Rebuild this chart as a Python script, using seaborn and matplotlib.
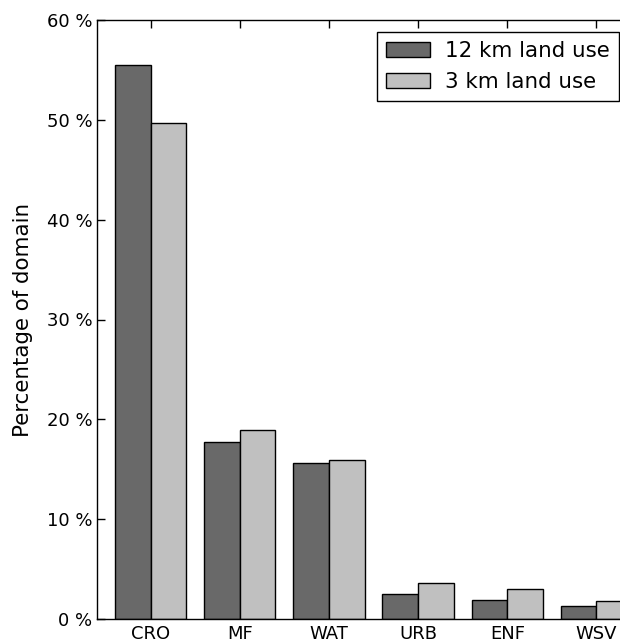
import matplotlib
matplotlib.use("Agg")
import matplotlib.pyplot as plt
import seaborn as sns
import pandas as pd
from matplotlib.ticker import FuncFormatter, MultipleLocator

categories = ["CRO", "MF", "WAT", "URB", "ENF", "WSV"]
series_names = ["12 km land use", "3 km land use"]
values_12km = [55.5, 17.7, 15.6, 2.5, 1.9, 1.3]
values_3km = [49.7, 18.9, 15.9, 3.6, 3.0, 1.8]
colors = ["#696969", "#c0c0c0"]

df = pd.DataFrame({
    "category": categories * 2,
    "value": values_12km + values_3km,
    "series": [series_names[0]] * len(categories) + [series_names[1]] * len(categories),
})

sns.set_style("ticks")
plt.rcParams["font.family"] = ["DejaVu Sans"]
plt.rcParams["text.color"] = "black"
plt.rcParams["axes.labelcolor"] = "black"

fig = plt.figure(figsize=(6.2, 6.4), dpi=100)
ax = fig.add_axes([97 / 620, 1 - 619 / 640, 553 / 620, 599 / 640])

sns.barplot(data=df, x="category", y="value", hue="series", order=categories,
            hue_order=series_names, palette=colors, edgecolor="black",
            linewidth=1.0, saturation=1, ax=ax, width=0.8, gap=0)

ax.set_xlim(-0.6, 5.6)
ax.set_ylim(0, 60)
ax.yaxis.set_major_locator(MultipleLocator(10))
ax.yaxis.set_major_formatter(FuncFormatter(lambda v, p: f"{int(v)} %"))
ax.set_xlabel("")
ax.set_ylabel("Percentage of domain", fontsize=15.4, labelpad=10, color="black")
ax.tick_params(axis="both", direction="in", length=6, width=1, labelsize=13,
               top=True, right=True, colors="black")
ax.tick_params(axis="x", pad=4)
for s in ax.spines.values():
    s.set_visible(True)
    s.set_linewidth(1.0)
    s.set_color("black")

leg = ax.legend(loc="upper right", bbox_to_anchor=(619 / 620, 1 - 32 / 640),
                bbox_transform=fig.transFigure, fontsize=15.4, frameon=True,
                fancybox=False, edgecolor="black", framealpha=1,
                handlelength=2.06, handleheight=0.7, borderpad=0.42,
                labelspacing=0.5, handletextpad=0.7, borderaxespad=0)
leg.get_frame().set_linewidth(1.0)
for t in leg.get_texts():
    t.set_color("black")

fig.savefig("out.png", dpi=100)
